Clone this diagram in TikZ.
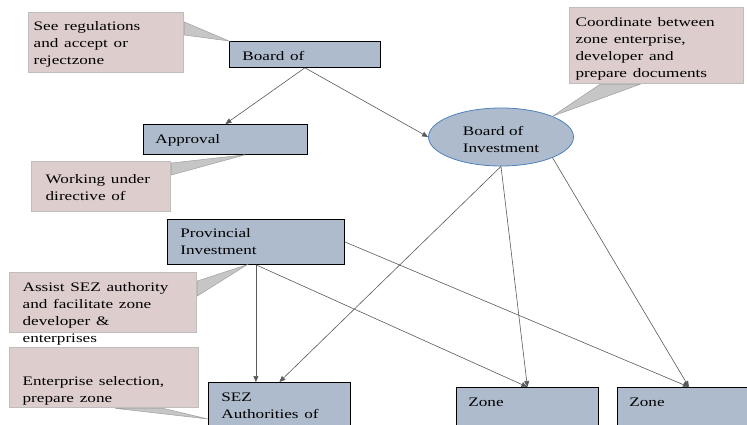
\documentclass[tikz,border=0pt]{standalone}
\usepackage{fontspec}
\usepackage{graphicx}
\setmainfont{Liberation Serif}
\usetikzlibrary{shapes.geometric,arrows.meta,calc}
\definecolor{unitfill}{RGB}{173,187,204}
\definecolor{notefill}{RGB}{221,205,205}
\definecolor{noteline}{RGB}{190,190,190}
\definecolor{boiline}{RGB}{79,129,189}
\newcommand{\wide}[1]{\scalebox{1.32}[1]{\begin{tabular}[t]{@{}l@{}}#1\end{tabular}}}

\begin{document}
\begin{tikzpicture}[x=1pt,y=-1pt]
   \tikzstyle{every node}=[font=\fontsize{13}{17}\selectfont, align=left, anchor=north west, inner ysep=0pt]
   \tikzstyle{unit}=[draw=black, line width=0.8pt, fill=unitfill, inner xsep=13pt]
   \tikzstyle{note}=[draw=noteline, line width=1.3pt, fill=notefill]
   \tikzstyle{wedge}=[draw=gray!75, fill=gray!45, line width=0.5pt]
   \tikzstyle{link}=[draw=black!65, line width=0.6pt, -{Triangle[length=6pt,width=5pt]}]

   \useasboundingbox (0,0) rectangle (747,425);
   \clip (0,0) rectangle (747,425);

\node[unit, text width=125pt, text height=19pt, text depth=7pt] (board) at (229,41) {\wide{Board of}};
\node[unit, inner xsep=12pt, text width=140pt, text height=19pt, text depth=11pt] (approval) at (143,124) {\wide{Approval}};
\node[draw=boiline, line width=0.8pt, fill=unitfill, ellipse, anchor=center, minimum width=145pt, minimum height=58pt, inner sep=0pt, text height=14pt, text depth=17pt] (boi) at (501,137) {\wide{Board of\\Investment}};
\node[unit, text width=151pt, text height=18pt, text depth=27pt] (prov) at (167,219) {\wide{Provincial\\Investment}};
\node[unit, text width=116pt, text height=19pt, text depth=40pt] (sez) at (208,382) {\wide{SEZ\\Authorities of}};
\node[unit, inner xsep=12pt, text width=118pt, text height=19pt, text depth=40pt] (zone1) at (456,387) {\wide{Zone}};
\node[unit, inner xsep=12pt, text width=119pt, text height=19pt, text depth=40pt] (zone2) at (617,387) {\wide{Zone}};

\draw[link] (board.south) -- (approval.north);
\draw[link] (board.south) -- (boi.west);
\draw[link] (boi.south) -- (sez.north);
\draw[link] (boi.south) -- (zone1.north);
\draw[link] (boi.south east) -- (zone2.north);
\draw[link] (prov.south) -- (prov.south |- sez.north);
\draw[link] (prov.south) -- (zone1.north);
\draw[link] (prov.east) -- (zone2.north);

\node[note, inner xsep=5pt, text width=145pt, text height=18pt, text depth=42pt] (see) at (28,12) {\wide{See regulations\\and accept or\\rejectzone}};
\node[note, inner xsep=14pt, text width=111pt, text height=22pt, text depth=28pt] (work) at (31,161) {\wide{Working under\\directive of}};
\node[note, inner xsep=6pt, text width=162pt, text height=19pt, text depth=57pt] (coord) at (569,7) {\wide{Coordinate between\\zone enterprise,\\developer and\\prepare documents}};
\node[note, inner xsep=13pt, text width=161pt, text height=19pt, text depth=41pt] (assist) at (9,272) {\wide{Assist SEZ authority\\and facilitate zone\\developer \&\\enterprises}};
\node[note, inner xsep=13pt, text width=163pt, text height=38pt, text depth=22pt] (select) at (9,347) {\wide{Enterprise selection,\\prepare zone}};

\filldraw[wedge] ($(see.north east)+(0,10)$) -- (board.north west) -- ($(see.north east)+(0,23)$) -- cycle;
\filldraw[wedge] ($(work.north east)+(0,2)$) -- ($(approval.south west)!0.62!(approval.south east)$) -- ($(work.north east)+(0,14)$) -- cycle;
\filldraw[wedge] ($(coord.south west)+(31,0)$) -- (boi.north east) -- ($(coord.south west)+(71,0)$) -- cycle;
\filldraw[wedge] ($(assist.north east)+(0,9)$) -- ($(prov.south west)!0.45!(prov.south east)$) -- ($(assist.north east)+(0,24)$) -- cycle;
\filldraw[wedge] ($(select.south west)+(106,0)$) -- ($(sez.north west)+(0,37)$) -- ($(select.south west)+(154,0)$) -- cycle;

\end{tikzpicture}
\end{document}
